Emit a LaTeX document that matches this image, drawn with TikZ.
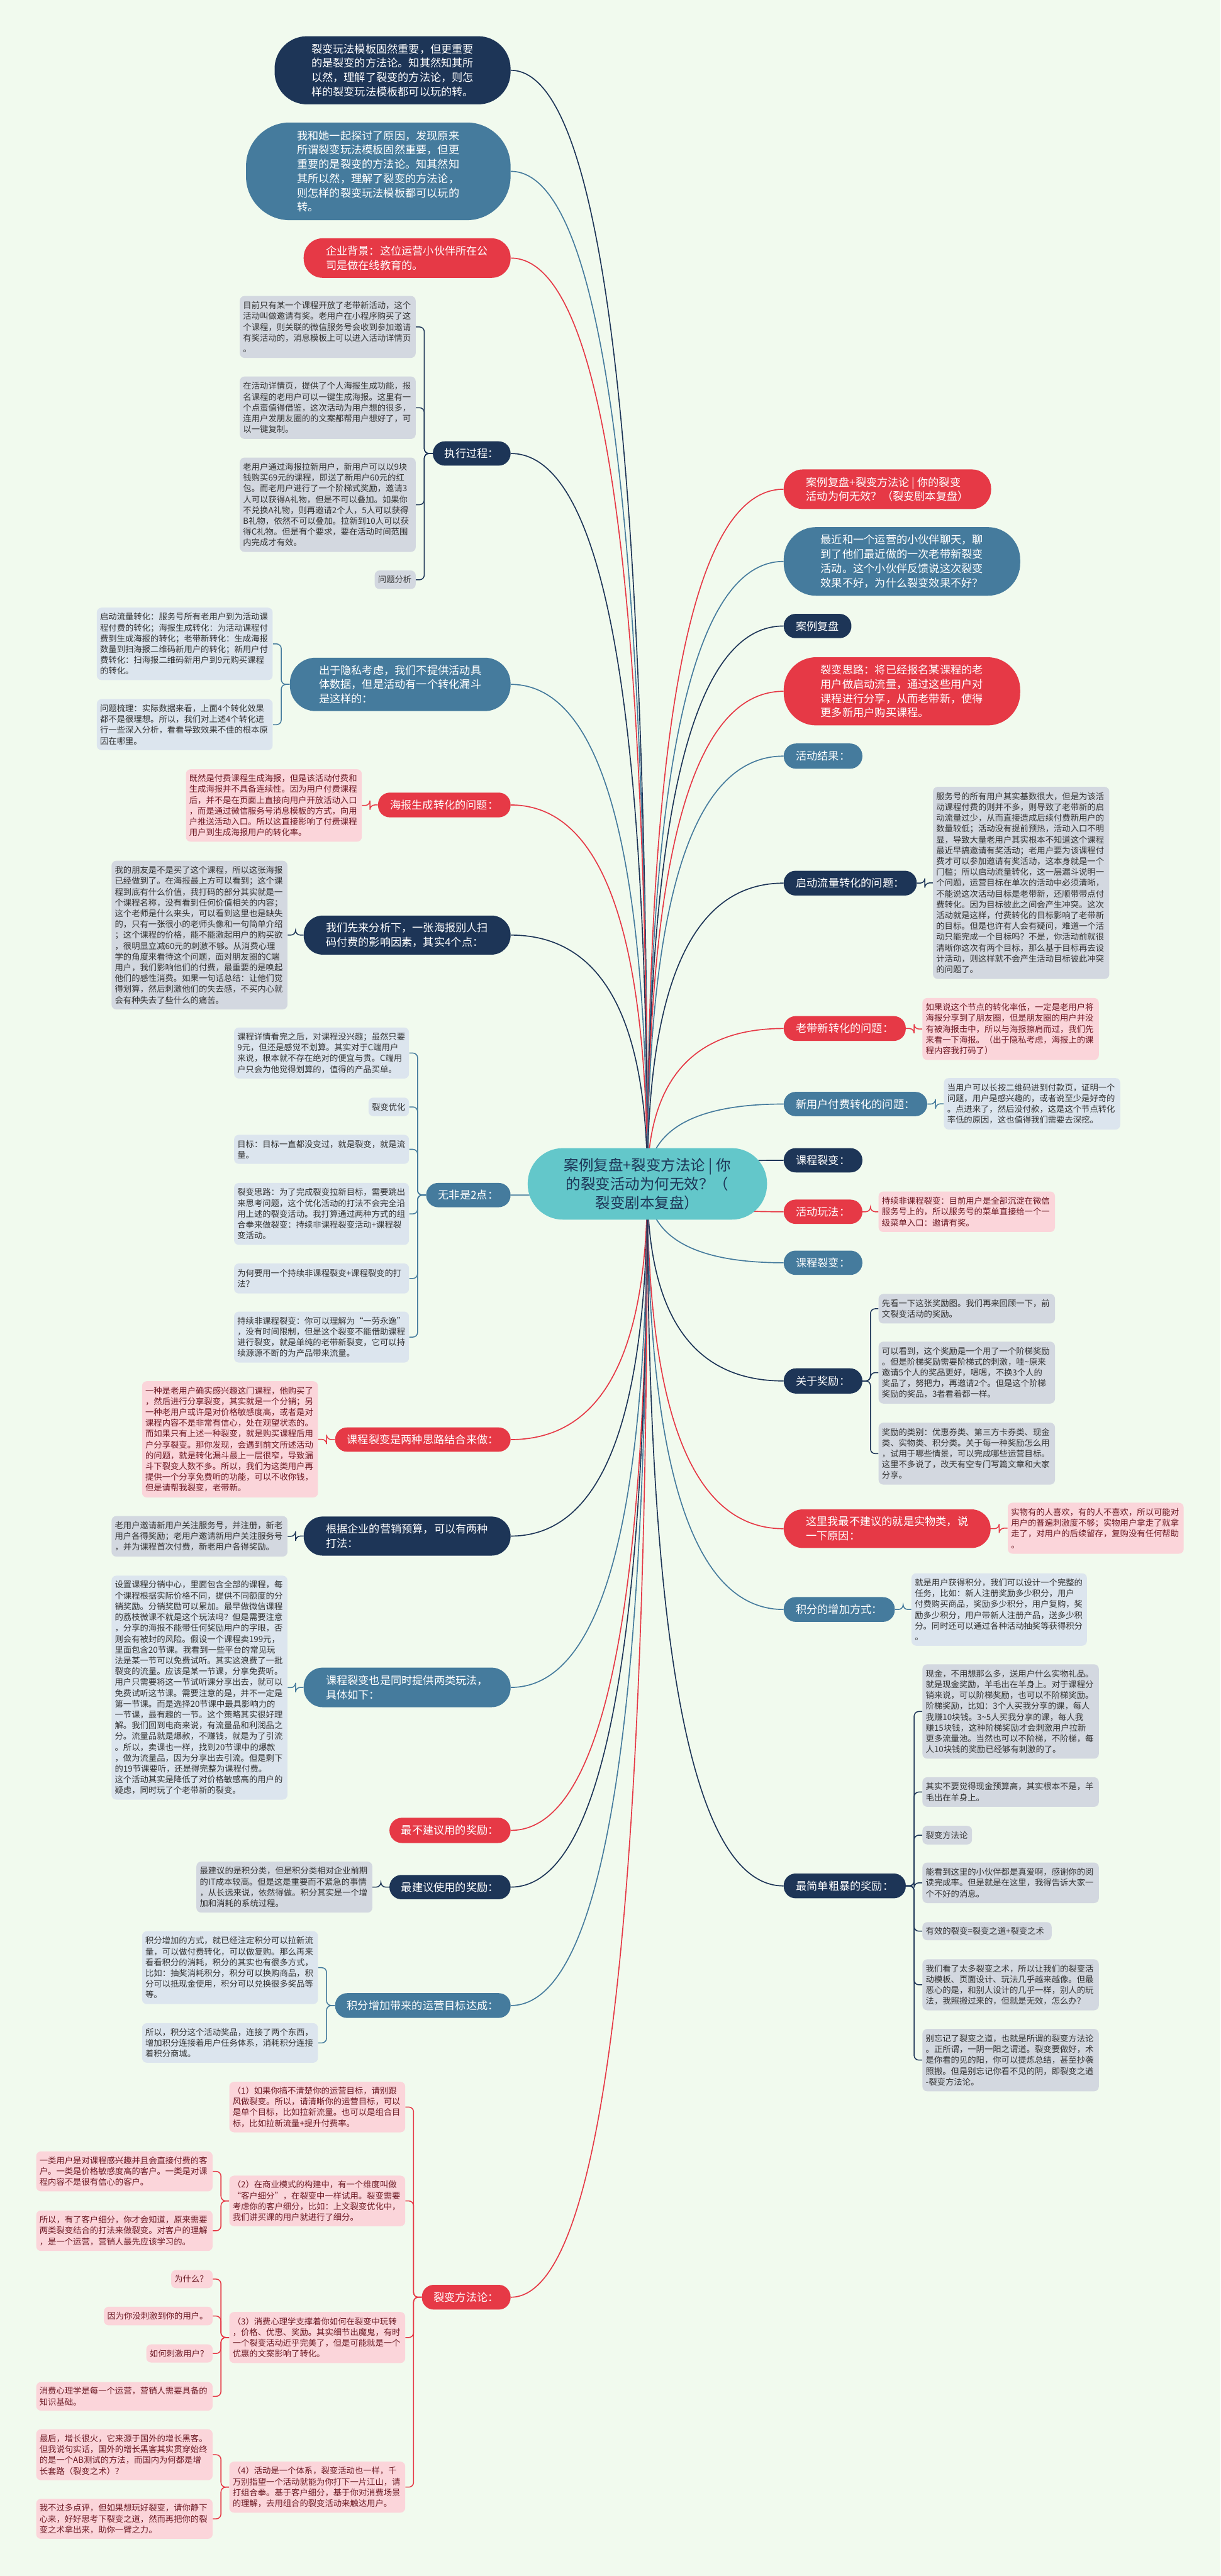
\documentclass[tikz,border=0pt]{standalone}
\usepackage{fontspec}
\setmainfont{Noto Sans CJK SC}
\usetikzlibrary{calc}
\setlength{\parindent}{0pt}
\definecolor{navyc}{HTML}{1D3557}
\definecolor{steelc}{HTML}{457B9D}
\definecolor{redc}{HTML}{E63946}
\definecolor{ctrc}{HTML}{63C7CA}
\definecolor{bgc}{HTML}{F1FAEE}
\definecolor{grayl}{HTML}{D3D8E0}
\definecolor{bluel}{HTML}{DCE5EE}
\definecolor{pinkl}{HTML}{FBD5DA}
\definecolor{leaftext}{HTML}{333333}
\definecolor{pinktext}{HTML}{6D1A24}
\pgfdeclarelayer{back}
\pgfdeclarelayer{edges}
\pgfsetlayers{back,edges,main}
\tikzset{
  base/.style={inner sep=2pt, anchor=center},
  mainN/.style={base, align=left, text=white, font=\fontsize{11.35}{15}\selectfont},
  navyN/.style={mainN, fill=navyc},
  steelN/.style={mainN, fill=steelc},
  redN/.style={mainN, fill=redc},
  sz/.style 2 args={minimum width=#1pt, minimum height=#2pt},
  leafN/.style 2 args={base, inner xsep=3.5pt, align=left, rounded corners=5pt,
    text width=#1pt, minimum height=#2pt, font=\fontsize{8.8}{11.35}\selectfont},
  grayL/.style 2 args={leafN={#1}{#2}, fill=grayl, text=leaftext},
  blueL/.style 2 args={leafN={#1}{#2}, fill=bluel, text=leaftext},
  pinkL/.style 2 args={leafN={#1}{#2}, fill=pinkl, text=pinktext},
  edge/.style={line width=1.1pt},
  br/.style={line width=1pt, rounded corners=5pt},
}
\newcommand\ledge[2]{\draw[edge,#1] (ctr.center) .. controls ($(ctr.center)!.667!(ctr.center|-#2.east)$) and ($(#2.east)!.667!(ctr.center|-#2.east)$) .. (#2.east);}
\newcommand\redge[2]{\draw[edge,#1] (ctr.center) .. controls ($(ctr.center)!.667!(ctr.center|-#2.west)$) and ($(#2.west)!.667!(ctr.center|-#2.west)$) .. (#2.west);}
\newcommand\lbr[3]{\draw[br,#1] (#2.west) -- ($(#2.west)!.5!(#2.west-|#3.east)$) |- (#3.east);}
\newcommand\rbr[3]{\draw[br,#1] (#2.east) -- ($(#2.east)!.5!(#2.east-|#3.west)$) |- (#3.west);}
\begin{document}
\begin{tikzpicture}[x=1pt,y=-1pt]
\useasboundingbox (0,0) rectangle (1280,2702.5);
\begin{pgfonlayer}{back}
\fill[bgc] (0,0) rectangle (1280,2702.5);
\end{pgfonlayer}

% center
\node[base, align=center, fill=ctrc, text=navyc, font=\fontsize{15.5}{19.7}\selectfont, sz={251}{75}, rounded corners=37pt] (ctr) at (679,1242) {案例复盘+裂变方法论 | 你\\的裂变活动为何无效？（\\裂变剧本复盘）};

% ---------- left side ----------
\node[navyN, sz={247.5}{71.5}, rounded corners=34pt] (l1) at (411.75,73.75) {裂变玩法模板固然重要，但更重要\\的是裂变的方法论。知其然知其所\\以然，理解了裂变的方法论，则怎\\样的裂变玩法模板都可以玩的转。};
\node[steelN, sz={277.5}{102.5}, rounded corners=46pt] (l2) at (396.75,179.75) {我和她一起探讨了原因，发现原来\\所谓裂变玩法模板固然重要，但更\\重要的是裂变的方法论。知其然知\\其所以然，理解了裂变的方法论，\\则怎样的裂变玩法模板都可以玩的\\转。};
\node[redN, sz={217}{41.5}, rounded corners=20pt] (l3) at (427,270.75) {企业背景：这位运营小伙伴所在公\\司是做在线教育的。};

\node[navyN, sz={81.5}{25.5}, rounded corners=12.5pt] (l4) at (494.75,475.75) {执行过程：};
\node[grayL={177.5}{65}] (l4a) at (343.75,343) {目前只有某一个课程开放了老带新活动，这个\\活动叫做邀请有奖。老用户在小程序购买了这\\个课程，则关联的微信服务号会收到参加邀请\\有奖活动的，消息模板上可以进入活动详情页\\。};
\node[grayL={177.5}{65.5}] (l4b) at (343.75,427.75) {在活动详情页，提供了个人海报生成功能，报\\名课程的老用户可以一键生成海报。这里有一\\个点蛮值得借鉴，这次活动为用户想的很多，\\连用户发朋友圈的的文案都帮用户想好了，可\\以一键复制。};
\node[grayL={177.5}{99}] (l4c) at (343.75,529.5) {老用户通过海报拉新用户，新用户可以以9块\\钱购买69元的课程，即送了新用户60元的红\\包。而老用户进行了一个阶梯式奖励，邀请3\\人可以获得A礼物，但是不可以叠加。如果你\\不兑换A礼物，则再邀请2个人，5人可以获得\\B礼物，依然不可以叠加。拉新到10人可以获\\得C礼物。但是有个要求，要在活动时间范围\\内完成才有效。};
\node[grayL={36}{19.5}] (l4d) at (414.5,608.25) {问题分析};

\node[steelN, sz={231.5}{56}, rounded corners=27pt] (l5) at (419.75,718) {出于隐私考虑，我们不提供活动具\\体数据，但是活动有一个转化漏斗\\是这样的：};
\node[blueL={177.5}{76}] (l5a) at (193.75,675.5) {启动流量转化：服务号所有老用户到为活动课\\程付费的转化；海报生成转化：为活动课程付\\费到生成海报的转化；老带新转化：生成海报\\数量到扫海报二维码新用户的转化；新用户付\\费转化：扫海报二维码新用户到9元购买课程\\的转化。};
\node[blueL={177.5}{53.5}] (l5b) at (193.75,760.25) {问题梳理：实际数据来看，上面4个转化效果\\都不是很理想。所以，我们对上述4个转化进\\行一些深入分析，看看导致效果不佳的根本原\\因在哪里。};

\node[redN, sz={139}{26}, rounded corners=12.5pt] (l6) at (466,844.5) {海报生成转化的问题：};
\node[pinkL={177.5}{76}] (l6a) at (287.25,845) {既然是付费课程生成海报，但是该活动付费和\\生成海报并不具备连续性。因为用户付费课程\\后，并不是在页面上直接向用户开放活动入口\\，而是通过微信服务号消息模板的方式，向用\\户推送活动入口。所以这直接影响了付费课程\\用户到生成海报用户的转化率。};

\node[navyN, sz={217}{41}, rounded corners=20pt] (l7) at (427,981) {我们先来分析下，一张海报别人扫\\码付费的影响因素，其实4个点：};
\node[grayL={177.5}{156}] (l7a) at (209.25,981) {我的朋友是不是买了这个课程，所以这张海报\\已经做到了。在海报最上方可以看到；这个课\\程到底有什么价值，我打码的部分其实就是一\\个课程名称，没有看到任何价值相关的内容；\\这个老师是什么来头，可以看到这里也是缺失\\的，只有一张很小的老师头像和一句简单介绍\\；这个课程的价格，能不能激起用户的购买欲\\，很明显立减60元的刺激不够。从消费心理\\学的角度来看待这个问题，面对朋友圈的C端\\用户，我们影响他们的付费，最重要的是唤起\\他们的感性消费。如果一句话总结：让他们觉\\得划算，然后刺激他们的失去感，不买内心就\\会有种失去了些什么的痛苦。};

\node[steelN, sz={88.5}{25.5}, rounded corners=12.5pt] (l8) at (491.25,1253.75) {无非是2点：};
\node[blueL={176.5}{53.5}] (l8a) at (337.25,1104.75) {课程详情看完之后，对课程没兴趣；虽然只要\\9元，但还是感觉不划算。其实对于C端用户\\来说，根本就不存在绝对的便宜与贵。C端用\\户只会为他觉得划算的，值得的产品买单。};
\node[blueL={35.5}{19.5}] (l8b) at (407.75,1161.25) {裂变优化};
\node[blueL={176.5}{30.5}] (l8c) at (337.25,1205.75) {目标：目标一直都没变过，就是裂变，就是流\\量。};
\node[blueL={176.5}{65}] (l8d) at (337.25,1273.5) {裂变思路：为了完成裂变拉新目标，需要跳出\\来思考问题，这个优化活动的打法不会完全沿\\用上述的裂变活动。我打算通过两种方式的组\\合拳来做裂变：持续非课程裂变活动+课程裂\\变活动。};
\node[blueL={176.5}{31.5}] (l8e) at (337.25,1341.25) {为何要用一个持续非课程裂变+课程裂变的打\\法？};
\node[blueL={176.5}{53.5}] (l8f) at (337.25,1402.75) {持续非课程裂变：你可以理解为“一劳永逸”\\，没有时间限制，但是这个裂变不能借助课程\\进行裂变，就是单纯的老带新裂变，它可以持\\续源源不断的为产品带来流量。};

\node[redN, sz={184}{25.5}, rounded corners=12.5pt] (l9) at (443.5,1510.25) {课程裂变是两种思路结合来做：};
\node[pinkL={177.5}{122}] (l9a) at (241.25,1510) {一种是老用户确实感兴趣这门课程，他购买了\\，然后进行分享裂变，其实就是一个分销；另\\一种老用户或许是对价格敏感度高，或者是对\\课程内容不是非常有信心，处在观望状态的。\\而如果只有上述一种裂变，就是购买课程后用\\户分享裂变。那你发现，会遇到前文所述活动\\的问题，就是转化漏斗最上一层很窄，导致漏\\斗下裂变人数不多。所以，我们为这类用户再\\提供一个分享免费听的功能，可以不收你钱，\\但是请帮我裂变，老带新。};

\node[navyN, sz={217}{41}, rounded corners=20pt] (l10) at (427,1611.5) {根据企业的营销预算，可以有两种\\打法：};
\node[grayL={177.5}{42.5}] (l10a) at (209.25,1611.75) {老用户邀请新用户关注服务号，并注册，新老\\用户各得奖励；老用户邀请新用户关注服务号\\，并为课程首次付费，新老用户各得奖励。};

\node[steelN, sz={217}{41.5}, rounded corners=20pt] (l11) at (427,1770.25) {课程裂变也是同时提供两类玩法，\\具体如下：};
\node[blueL={177.5}{235}] (l11a) at (209.25,1770.5) {设置课程分销中心，里面包含全部的课程，每\\个课程根据实际价格不同，提供不同额度的分\\销奖励。分销奖励可以累加。最早做微信课程\\的荔枝微课不就是这个玩法吗？但是需要注意\\，分享的海报不能带任何奖励用户的字眼，否\\则会有被封的风险。假设一个课程卖199元，\\里面包含20节课。我看到一些平台的常见玩\\法是某一节可以免费试听。其实这浪费了一批\\裂变的流量。应该是某一节课，分享免费听。\\用户只需要将这一节试听课分享出去，就可以\\免费试听这节课。需要注意的是，并不一定是\\第一节课。而是选择20节课中最具影响力的\\一节课，最有趣的一节。这个策略其实很好理\\解。我们回到电商来说，有流量品和利润品之\\分。流量品就是爆款，不赚钱，就是为了引流\\。所以，卖课也一样，找到20节课中的爆款\\，做为流量品，因为分享出去引流。但是剩下\\的19节课要听，还是得完整为课程付费。\\这个活动其实是降低了对价格敏感高的用户的\\疑虑，同时玩了个老带新的裂变。};

\node[redN, sz={127}{26.5}, rounded corners=13pt] (l12) at (472,1920.25) {最不建议用的奖励：};
\node[navyN, sz={127}{25.5}, rounded corners=12.5pt] (l13) at (472,1979.75) {最建议使用的奖励：};
\node[grayL={177.5}{53.5}] (l13a) at (298.25,1979.75) {最建议的是积分类，但是积分类相对企业前期\\的IT成本较高。但是这是重要而不紧急的事情\\，从长远来说，依然得做。积分其实是一个增\\加和消耗的系统过程。};

\node[steelN, sz={184}{26}, rounded corners=12.5pt] (l14) at (443.5,2104) {积分增加带来的运营目标达成：};
\node[blueL={177.5}{76.5}] (l14a) at (241.25,2064.25) {积分增加的方式，就已经注定积分可以拉新流\\量，可以做付费转化，可以做复购。那么再来\\看看积分的消耗，积分的其实也有很多方式，\\比如：抽奖消耗积分，积分可以换购商品，积\\分可以抵现金使用，积分可以兑换很多奖品等\\等。};
\node[blueL={177.5}{41.5}] (l14b) at (241.25,2143.25) {所以，积分这个活动奖品，连接了两个东西，\\增加积分连接着用户任务体系，消耗积分连接\\着积分商城。};

\node[redN, sz={93}{26}, rounded corners=12.5pt] (l15) at (489,2410) {裂变方法论：};
\node[pinkL={177.5}{53}] (p1) at (332.75,2210.5) {（1）如果你搞不清楚你的运营目标，请别跟\\风做裂变。所以，请清晰你的运营目标，可以\\是单个目标，比如拉新流量。也可以是组合目\\标，比如拉新流量+提升付费率。};
\node[pinkL={177.5}{53}] (p2) at (332.75,2309) {（2）在商业模式的构建中，有一个维度叫做\\“客户细分”，在裂变中一样试用。裂变需要\\考虑你的客户细分，比如：上文裂变优化中，\\我们讲买课的用户就进行了细分。};
\node[pinkL={177.5}{53.5}] (p3) at (332.75,2452.25) {（3）消费心理学支撑着你如何在裂变中玩转\\，价格、优惠、奖励。其实细节出魔鬼，有时\\一个裂变活动近乎完美了，但是可能就是一个\\优惠的文案影响了转化。};
\node[pinkL={177.5}{53.5}] (p4) at (332.75,2609.25) {（4）活动是一个体系，裂变活动也一样，千\\万别指望一个活动就能为你打下一片江山，请\\打组合拳。基于客户细分，基于你对消费场景\\的理解，去用组合的裂变活动来触达用户。};
\node[pinkL={178}{42}] (p2a) at (130.5,2278) {一类用户是对课程感兴趣并且会直接付费的客\\户。一类是价格敏感度高的客户。一类是对课\\程内容不是很有信心的客户。};
\node[pinkL={178}{42.5}] (p2b) at (130.5,2340.25) {所以，有了客户细分，你才会知道，原来需要\\两类裂变结合的打法来做裂变。对客户的理解\\，是一个运营，营销人最先应该学习的。};
\node[pinkL={36.5}{19}] (p3a) at (201.25,2391) {为什么？};
\node[pinkL={107}{19.5}] (p3b) at (166,2429.75) {因为你没刺激到你的用户。};
\node[pinkL={62.5}{19}] (p3c) at (188.25,2469) {如何刺激用户？};
\node[pinkL={178}{30}] (p3d) at (130.5,2514) {消费心理学是每一个运营，营销人需要具备的\\知识基础。};
\node[pinkL={178}{53.5}] (p4a) at (130.5,2575.25) {最后，增长很火，它来源于国外的增长黑客。\\但我说句实话，国外的增长黑客其实贯穿始终\\的是一个AB测试的方法，而国内为何都是增\\长套路（裂变之术）？};
\node[pinkL={178}{42}] (p4b) at (130.5,2642.5) {我不过多点评，但如果想玩好裂变，请你静下\\心来，好好思考下裂变之道，然而再把你的裂\\变之术拿出来，助你一臂之力。};

% ---------- right side ----------
\node[redN, sz={217.5}{41.5}, rounded corners=20pt] (r1) at (930.75,513.25) {案例复盘+裂变方法论 | 你的裂变\\活动为何无效？（裂变剧本复盘）};
\node[steelN, sz={248}{72}, rounded corners=34pt] (r2) at (946,589) {最近和一个运营的小伙伴聊天，聊\\到了他们最近做的一次老带新裂变\\活动。这个小伙伴反馈说这次裂变\\效果不好，为什么裂变效果不好？};
\node[navyN, sz={71}{25.5}, rounded corners=12.5pt] (r3) at (857.5,656.75) {案例复盘};
\node[redN, sz={248}{71.5}, rounded corners=34pt] (r4) at (946,725.25) {裂变思路：将已经报名某课程的老\\用户做启动流量，通过这些用户对\\课程进行分享，从而老带新，使得\\更多新用户购买课程。};
\node[steelN, sz={82.5}{26.5}, rounded corners=13pt] (r5) at (863.25,793.25) {活动结果：};

\node[navyN, sz={139.5}{26}, rounded corners=12.5pt] (r6) at (891.75,926.5) {启动流量转化的问题：};
\node[grayL={178}{201.5}] (r6a) at (1071,926.25) {服务号的所有用户其实基数很大，但是为该活\\动课程付费的则并不多，则导致了老带新的启\\动流量过少，从而直接造成后续付费新用户的\\数量较低；活动没有提前预热，活动入口不明\\显，导致大量老用户其实根本不知道这个课程\\最近早搞邀请有奖活动；老用户要为该课程付\\费才可以参加邀请有奖活动，这本身就是一个\\门槛；所以启动流量转化，这一层漏斗说明一\\个问题，运营目标在单次的活动中必须清晰，\\不能说这次活动目标是老带新，还顺带带点付\\费转化。因为目标彼此之间会产生冲突。这次\\活动就是这样，付费转化的目标影响了老带新\\的目标。但是也许有人会有疑问，难道一个活\\动只能完成一个目标吗？不是，你活动前就很\\清晰你这次有两个目标，那么基于目标再去设\\计活动，则这样就不会产生活动目标彼此冲突\\的问题了。};

\node[redN, sz={128}{26}, rounded corners=12.5pt] (r7) at (886,1079) {老带新转化的问题：};
\node[pinkL={178}{65}] (r7a) at (1060,1079.5) {如果说这个节点的转化率低，一定是老用户将\\海报分享到了朋友圈，但是朋友圈的用户并没\\有被海报击中，所以与海报擦肩而过，我们先\\来看一下海报。（出于隐私考虑，海报上的课\\程内容我打码了）};

\node[steelN, sz={150.5}{25.5}, rounded corners=12.5pt] (r8) at (897.25,1158.25) {新用户付费转化的问题：};
\node[blueL={178}{54}] (r8a) at (1082.5,1158) {当用户可以长按二维码进到付款页，证明一个\\问题，用户是感兴趣的，或者说至少是好奇的\\。点进来了，然后没付款，这是这个节点转化\\率低的原因，这也值得我们需要去深挖。};

\node[navyN, sz={82.5}{25.5}, rounded corners=12.5pt] (r9) at (863.25,1217.25) {课程裂变：};
\node[redN, sz={82.5}{25.5}, rounded corners=12.5pt] (r10) at (863.25,1271.25) {活动玩法：};
\node[pinkL={178}{42.5}] (r10a) at (1014,1271.25) {持续非课程裂变：目前用户是全部沉淀在微信\\服务号上的，所以服务号的菜单直接给一个一\\级菜单入口：邀请有奖。};
\node[steelN, sz={82.5}{25.5}, rounded corners=12.5pt] (r11) at (863.25,1324.75) {课程裂变：};

\node[navyN, sz={82.5}{26.5}, rounded corners=13pt] (r12) at (863.25,1448.75) {关于奖励：};
\node[grayL={178}{31}] (r12a) at (1014,1373) {先看一下这张奖励图。我们再来回顾一下，前\\文裂变活动的奖励。};
\node[grayL={178}{65}] (r12b) at (1014,1440) {可以看到，这个奖励是一个用了一个阶梯奖励\\。但是阶梯奖励需要阶梯式的刺激，哇\textasciitilde{}原来\\邀请5个人的奖品更好，嗯嗯，不换3个人的\\奖品了，努把力，再邀请2个。但是这个阶梯\\奖励的奖品，3者看着都一样。};
\node[grayL={178}{65}] (r12c) at (1014,1525) {奖励的类别：优惠券类、第三方卡券类、现金\\类、实物类、积分类。关于每一种奖励怎么用\\，试用于哪些情景，可以完成哪些运营目标。\\这里不多说了，改天有空专门写篇文章和大家\\分享。};

\node[redN, sz={217}{40.5}, rounded corners=20pt] (r13) at (930.5,1603.75) {这里我最不建议的就是实物类，说\\一下原因：};
\node[pinkL={177.5}{53.5}] (r13a) at (1149.25,1603.25) {实物有的人喜欢，有的人不喜欢，所以可能对\\用户的普遍刺激度不够；实物用户拿走了就拿\\走了，对用户的后续留存，复购没有任何帮助\\。};

\node[steelN, sz={116.5}{26}, rounded corners=12.5pt] (r14) at (880.25,1688.5) {积分的增加方式：};
\node[blueL={177}{76}] (r14a) at (1048,1688.5) {就是用户获得积分，我们可以设计一个完整的\\任务，比如：新人注册奖励多少积分，用户\\付费购买商品，奖励多少积分，用户复购，奖\\励多少积分，用户带新人注册产品，送多少积\\分。同时还可以通过各种活动抽奖等获得积分\\。};

\node[navyN, sz={128}{26}, rounded corners=12.5pt] (r15) at (886,1978.5) {最简单粗暴的奖励：};
\node[grayL={178}{99}] (r15a) at (1060,1795.5) {现金，不用想那么多，送用户什么实物礼品。\\就是现金奖励，羊毛出在羊身上。对于课程分\\销来说，可以阶梯奖励，也可以不阶梯奖励。\\阶梯奖励，比如：3个人买我分享的课，每人\\我赚10块钱。3\textasciitilde{}5人买我分享的课，每人我\\赚15块钱，这种阶梯奖励才会刺激用户拉新\\更多流量池。当然也可以不阶梯，不阶梯，每\\人10块钱的奖励已经够有刺激的了。};
\node[grayL={178}{31}] (r15b) at (1060,1880) {其实不要觉得现金预算高，其实根本不是，羊\\毛出在羊身上。};
\node[grayL={45}{19.5}] (r15c) at (993.5,1925.25) {裂变方法论};
\node[grayL={178}{42.5}] (r15d) at (1060,1975.25) {能看到这里的小伙伴都是真爱啊，感谢你的阅\\读完成率。但是就是在这里，我得告诉大家一\\个不好的消息。};
\node[grayL={128.5}{19}] (r15e) at (1035.25,2026) {有效的裂变=裂变之道+裂变之术};
\node[grayL={178}{53.5}] (r15f) at (1060,2082.25) {我们看了太多裂变之术，所以让我们的裂变活\\动模板、页面设计、玩法几乎越来越像。但最\\恶心的是，和别人设计的几乎一样，别人的玩\\法，我照搬过来的，但就是无效，怎么办？};
\node[grayL={178}{65.5}] (r15g) at (1060,2161.25) {别忘记了裂变之道，也就是所谓的裂变方法论\\。正所谓，一阴一阳之谓道。裂变要做好，术\\是你看的见的阳，你可以提炼总结，甚至抄袭\\照搬。但是别忘记你看不见的阴，即裂变之道\\-裂变方法论。};

% ---------- connectors ----------
\begin{pgfonlayer}{edges}
\ledge{navyc}{l1}
\ledge{steelc}{l2}
\ledge{redc}{l3}
\ledge{navyc}{l4}
\ledge{steelc}{l5}
\ledge{redc}{l6}
\ledge{navyc}{l7}
\ledge{steelc}{l8}
\ledge{redc}{l9}
\ledge{navyc}{l10}
\ledge{steelc}{l11}
\ledge{redc}{l12}
\ledge{navyc}{l13}
\ledge{steelc}{l14}
\ledge{redc}{l15}
\redge{redc}{r1}
\redge{steelc}{r2}
\redge{navyc}{r3}
\redge{redc}{r4}
\redge{steelc}{r5}
\redge{navyc}{r6}
\redge{redc}{r7}
\redge{steelc}{r8}
\redge{navyc}{r9}
\redge{redc}{r10}
\redge{steelc}{r11}
\redge{navyc}{r12}
\redge{redc}{r13}
\redge{steelc}{r14}
\redge{navyc}{r15}

\foreach \c in {l4a,l4b,l4c,l4d} {\lbr{navyc}{l4}{\c}}
\foreach \c in {l5a,l5b} {\lbr{steelc}{l5}{\c}}
\lbr{redc}{l6}{l6a}
\lbr{navyc}{l7}{l7a}
\foreach \c in {l8a,l8b,l8c,l8d,l8e,l8f} {\lbr{steelc}{l8}{\c}}
\lbr{redc}{l9}{l9a}
\lbr{navyc}{l10}{l10a}
\lbr{steelc}{l11}{l11a}
\lbr{navyc}{l13}{l13a}
\foreach \c in {l14a,l14b} {\lbr{steelc}{l14}{\c}}
\foreach \c in {p1,p2,p3,p4} {\lbr{redc}{l15}{\c}}
\foreach \c in {p2a,p2b} {\lbr{redc}{p2}{\c}}
\foreach \c in {p3a,p3b,p3c,p3d} {\lbr{redc}{p3}{\c}}
\foreach \c in {p4a,p4b} {\lbr{redc}{p4}{\c}}

\rbr{navyc}{r6}{r6a}
\rbr{redc}{r7}{r7a}
\rbr{steelc}{r8}{r8a}
\rbr{redc}{r10}{r10a}
\foreach \c in {r12a,r12b,r12c} {\rbr{navyc}{r12}{\c}}
\rbr{redc}{r13}{r13a}
\rbr{steelc}{r14}{r14a}
\foreach \c in {r15a,r15b,r15c,r15d,r15e,r15f,r15g} {\rbr{navyc}{r15}{\c}}
\end{pgfonlayer}
\end{tikzpicture}
\end{document}
